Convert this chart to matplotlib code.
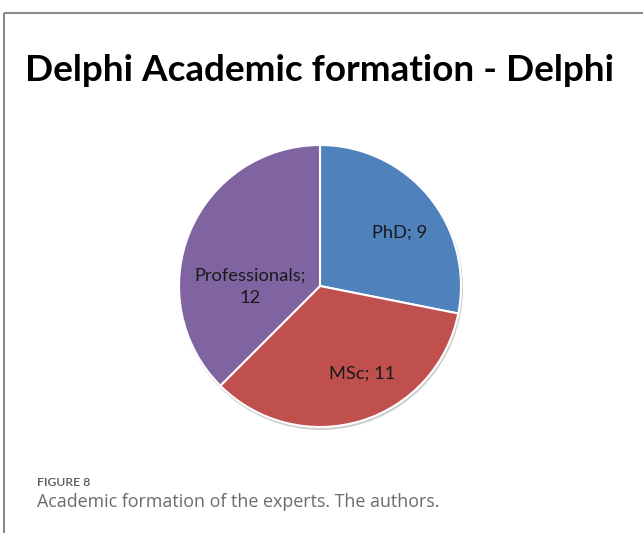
import matplotlib
matplotlib.use("Agg")
import matplotlib.pyplot as plt
from matplotlib.patches import Circle
import numpy as np

W, H = 643, 533

# dados
categories = ["PhD", "MSc", "Professionals"]
values = [9, 11, 12]
colors = ["#4F81BD", "#C0504D", "#8064A2"]
label_texts = ["PhD; 9", "MSc; 11", "Professionals;\n12"]
title = "Delphi Academic formation - Delphi"
fig_label = "FIGURE 8"
caption = "Academic formation of the experts. The authors."

# posições (pixels, origem no topo)
center = (320, 286)
radius = 141
label_pos = [(400, 233), (362, 374), (250, 287)]

fig = plt.figure(figsize=(W / 100, H / 100), dpi=100)
ax = fig.add_axes([0, 0, 1, 1])
Y = lambda y: H - y

# sombra
ax.add_patch(Circle((center[0] + 1, Y(center[1]) - 2), radius + 1,
                    facecolor="#b0b0b0", edgecolor="none", alpha=0.6, zorder=0))

wedges, _ = ax.pie(values, colors=colors, startangle=90, counterclock=False,
                   center=(center[0], Y(center[1])), radius=radius,
                   wedgeprops=dict(edgecolor="white", linewidth=1.5))

for txt, (x, y) in zip(label_texts, label_pos):
    ax.text(x, Y(y), txt, ha="center", va="center", fontsize=13.2,
            family="Lato", color="#1a1a1a", linespacing=1.45)

ax.set_xlim(0, W)
ax.set_ylim(0, H)
ax.set_aspect("auto")
ax.axis("off")

# moldura
ax.plot([4, W], [Y(13), Y(13)], color="#8a8a8a", lw=1.5, solid_capstyle="butt")
ax.plot([4, 4], [Y(13), 0], color="#8a8a8a", lw=1.5, solid_capstyle="butt")

ax.text(25, Y(81), title, fontsize=26.6, weight="bold", family="Lato",
        color="black", va="baseline", ha="left")
ax.text(37, Y(486), fig_label, fontsize=8.8, weight="semibold", family="Lato",
        color="#595959", va="baseline", ha="left")
ax.text(37, Y(507), caption, fontsize=12.9, family="Open Sans", color="#6b6b6b",
        va="baseline", ha="left")

fig.savefig("out.png", dpi=100)
